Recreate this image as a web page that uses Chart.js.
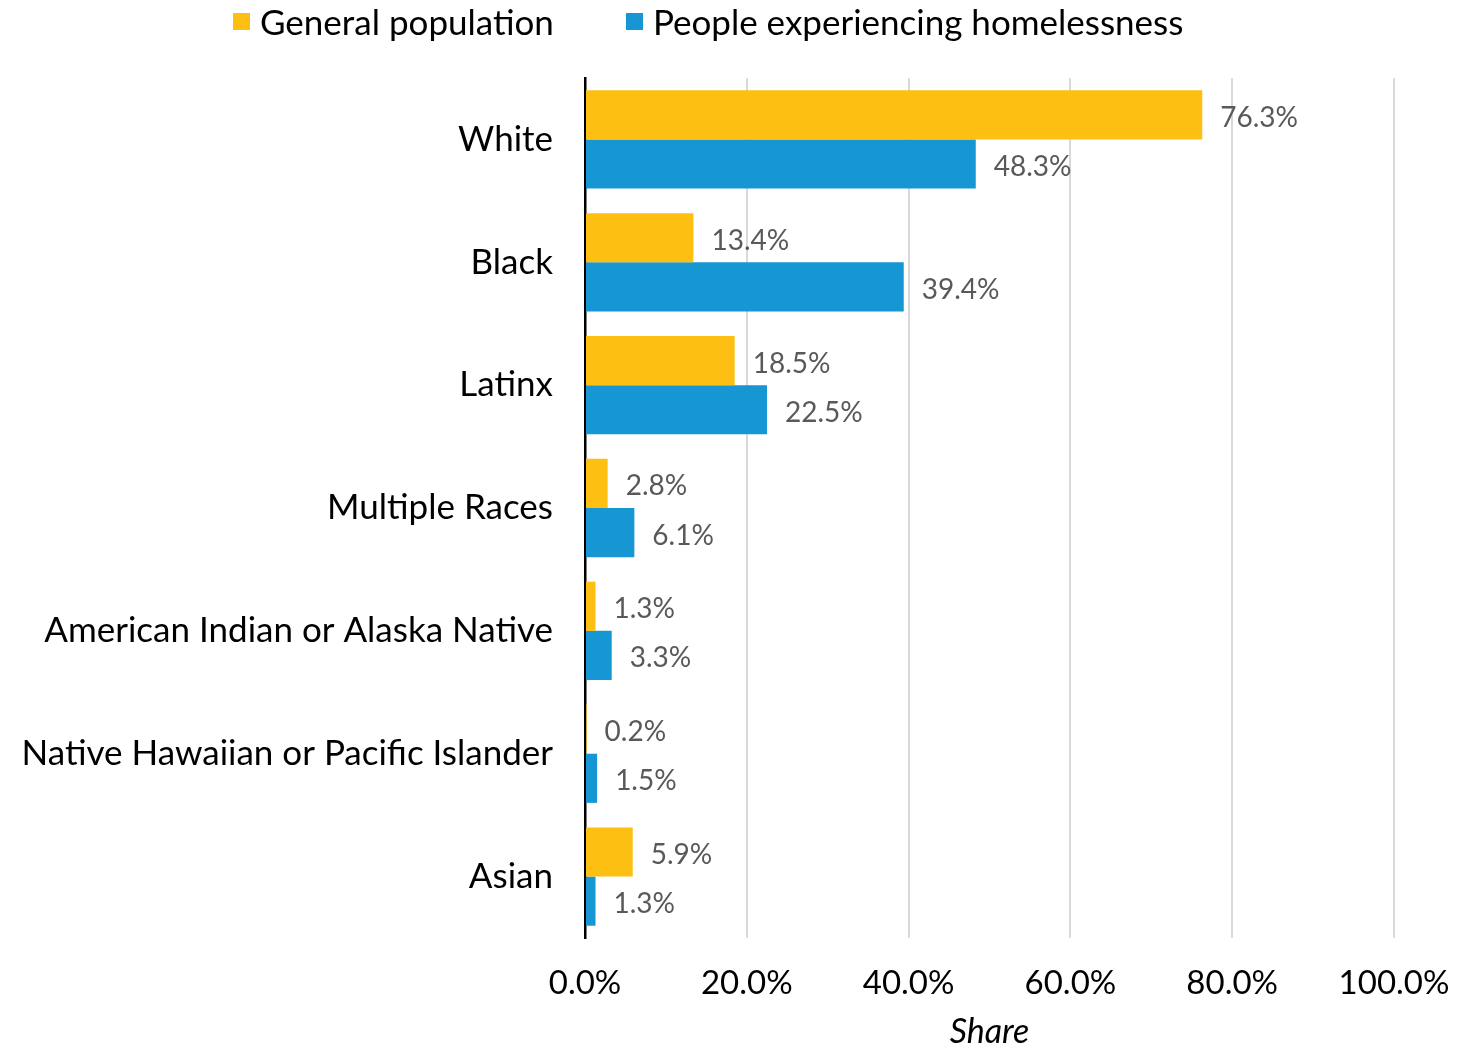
<!DOCTYPE html>
<html>
<head>
<meta charset="utf-8">
<script src="https://cdn.jsdelivr.net/npm/chart.js@4/dist/chart.umd.min.js"></script>
<style>
    body { margin: 0; background: #fff; font-family: Lato, sans-serif; }
    #wrap { position: relative; width: 1481px; height: 1052px; }
    #legend { position: absolute; left: 233px; top: 0px; display: flex; align-items: center; font-size: 35px; color: #000; }
    #legend .item { display: flex; align-items: center; margin-right: 72px; }
    #legend .box { width: 17px; height: 17px; margin-right: 10px; }
</style>
</head>
<body>
<div id="wrap">
    <div id="legend"></div>
    <canvas id="chart"></canvas>
</div>
<script>
const categorias = ["White", "Black", "Latinx", "Multiple Races", "American Indian or Alaska Native", "Native Hawaiian or Pacific Islander", "Asian"];
const populacaoGeral = [76.3, 13.4, 18.5, 2.8, 1.3, 0.2, 5.9];
const semTeto = [48.3, 39.4, 22.5, 6.1, 3.3, 1.5, 1.3];
const series = ["General population", "People experiencing homelessness"];
const cores = ["#FDBF11", "#1696D2"];

// percent labels drawn just past the end of each bar
const rotulos = {
    id: 'rotulos',
    afterDatasetsDraw(chart) {
        let ctx = chart.ctx;
        ctx.save();
        ctx.font = '28px Lato';
        ctx.fillStyle = '#595959';
        ctx.textBaseline = 'middle';
        ctx.textAlign = 'left';
        chart.data.datasets.forEach((ds, i) => {
            chart.getDatasetMeta(i).data.forEach((bar, j) => {
                ctx.fillText(ds.data[j].toFixed(1) + '%', bar.x + 18, bar.y + 3);
            });
        });
        ctx.restore();
    }
};

let legend = document.getElementById("legend");
series.forEach((nome, i) => {
    let item = document.createElement("div");
    item.className = "item";
    item.innerHTML = `<span class="box" style="background:${cores[i]}"></span><span>${nome}</span>`;
    legend.appendChild(item);
});

new Chart(document.getElementById("chart"), {
    type: 'bar',
    data: {
        labels: categorias,
        datasets: [
            { label: series[0], data: populacaoGeral, backgroundColor: cores[0] },
            { label: series[1], data: semTeto, backgroundColor: cores[1] }
        ]
    },
    options: {
        indexAxis: 'y',
        responsive: true,
        maintainAspectRatio: false,
        animation: false,
        categoryPercentage: 0.8,
        barPercentage: 1.0,
        layout: { padding: { top: 78, left: 19, right: 87, bottom: 0 } },
        plugins: {
            legend: { display: false },
            tooltip: { enabled: false }
        },
        scales: {
            x: {
                min: 0,
                max: 100,
                ticks: {
                    stepSize: 20,
                    padding: 26,
                    color: '#000',
                    font: { family: 'Lato', size: 33 },
                    callback: v => v.toFixed(1) + '%'
                },
                grid: { color: '#d9d9d9', lineWidth: 2, drawTicks: false },
                border: { display: false },
                title: {
                    display: true,
                    text: 'Share',
                    color: '#000',
                    font: { family: 'Lato', size: 34, style: 'italic' },
                    padding: { top: 4, bottom: 0 }
                },
                afterFit: s => { s.paddingLeft = 0; s.paddingRight = 0; s.height = 114; }
            },
            y: {
                ticks: {
                    padding: 32,
                    color: '#000',
                    font: { family: 'Lato', size: 35 }
                },
                grid: { display: false, drawTicks: false },
                border: { display: true, color: '#000', width: 2.5 },
                afterFit: s => { s.width = 566; }
            }
        }
    },
    plugins: [rotulos]
});
</script>
</body>
</html>
